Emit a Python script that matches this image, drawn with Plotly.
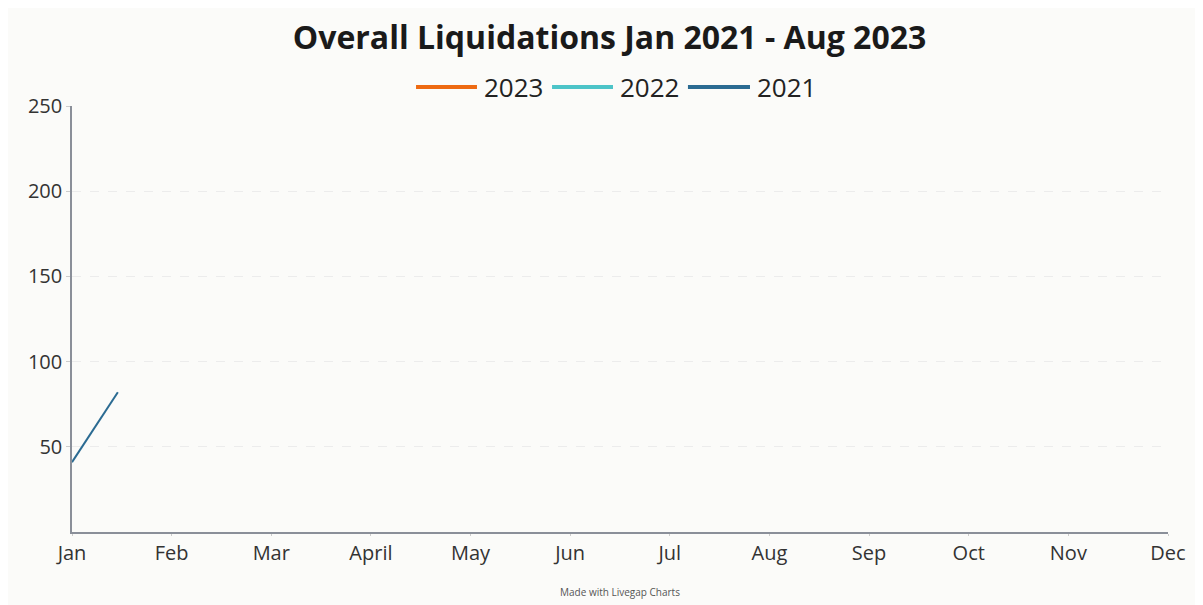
import plotly.graph_objects as go

months = ["Jan", "Feb", "Mar", "April", "May", "Jun", "Jul", "Aug", "Sep", "Oct", "Nov", "Dec"]
# Series visible in the captured frame (animation partially drawn)
x_2021 = [0, 0.46]
y_2021 = [41, 82]
x_2022 = [0]
y_2022 = [None]
x_2023 = [0]
y_2023 = [None]
y_ticks = [50, 100, 150, 200, 250]

series_names = ["2023", "2022", "2021"]
series_colors = ["#ee6a12", "#4cc4c8", "#2b6b92"]

fig = go.Figure()
fig.add_trace(go.Scatter(x=x_2023, y=y_2023, name="2023", mode="lines",
                         line=dict(color=series_colors[0], width=2)))
fig.add_trace(go.Scatter(x=x_2022, y=y_2022, name="2022", mode="lines",
                         line=dict(color=series_colors[1], width=2)))
fig.add_trace(go.Scatter(x=x_2021, y=y_2021, name="2021", mode="lines",
                         line=dict(color=series_colors[2], width=2)))

fig.update_layout(
    width=1203, height=605,
    paper_bgcolor="#fbfbf9", plot_bgcolor="#fbfbf9",
    margin=dict(l=64, r=43, t=98, b=81, autoexpand=False),
    title=dict(text="<b>Overall Liquidations Jan 2021 - Aug 2023</b>",
               x=0.5, xanchor="center", y=0.95, yanchor="middle",
               font=dict(family="Open Sans", size=32, color="#1a1a1a")),
    showlegend=False,
    font=dict(family="Open Sans"),
)
fig.update_xaxes(range=[0, 11], tickvals=list(range(12)), ticktext=months,
                 showgrid=False, showline=True, linecolor="#8a8f99", linewidth=1.5,
                 ticks="outside", ticklen=2, tickcolor="#ccc", automargin=False,
                 tickfont=dict(family="Open Sans", size=20, color="#333"), zeroline=False)
fig.update_yaxes(range=[0, 250], tickvals=y_ticks,
                 showgrid=True, gridcolor="#ececec", griddash="dash", gridwidth=1,
                 showline=True, linecolor="#8a8f99", linewidth=1.5,
                 ticks="outside", ticklen=4, tickcolor="#ccc", automargin=False,
                 tickfont=dict(family="Open Sans", size=20, color="#333"), zeroline=False)

# Custom legend (long, thick swatches like the original)
legend_y = 1.0446
swatch_x = [(0.3139, 0.3695), (0.438, 0.4936), (0.562, 0.6186)]
for name, color, (x0, x1) in zip(series_names, series_colors, swatch_x):
    fig.add_shape(type="line", xref="paper", yref="paper", x0=x0, x1=x1,
                  y0=legend_y, y1=legend_y, line=dict(color=color, width=4))
    fig.add_annotation(text=name, xref="paper", yref="paper", x=x1 + 0.005, y=legend_y,
                       xanchor="left", yanchor="middle", showarrow=False,
                       font=dict(family="Open Sans", size=26, color="#222"))

fig.add_annotation(text="Made with Livegap Charts", xref="paper", yref="paper",
                   x=0.5, y=-0.141, yanchor="middle", showarrow=False,
                   font=dict(family="Open Sans", size=10, color="#555"))

fig.write_html("out.html")
